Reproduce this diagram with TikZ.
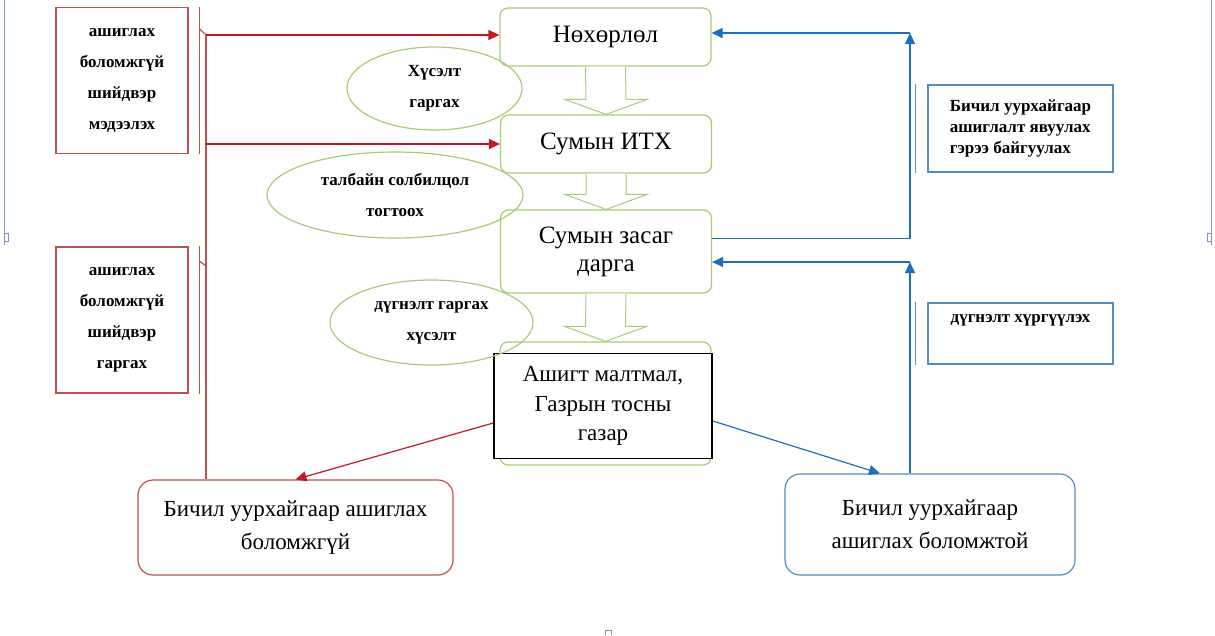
\documentclass[tikz,border=0pt]{standalone}
\usepackage{fontspec}
\setmainfont{Liberation Serif}
\usetikzlibrary{shapes.geometric,arrows.meta,calc}
\definecolor{redl}{RGB}{192,80,77}
\definecolor{redd}{RGB}{196,24,36}
\definecolor{greenl}{RGB}{168,204,118}
\definecolor{bluel}{RGB}{84,140,196}
\definecolor{blued}{RGB}{30,110,185}
\definecolor{framec}{RGB}{120,150,185}

\begin{document}
\begin{tikzpicture}[
        x=1pt,
        y=-1pt,
        line width=1.2pt
    ]
    \tikzset{
        stagebox/.style = {rectangle, rounded corners=8pt, draw=greenl, align=center, minimum width=211pt, font=\fontsize{25}{28}\selectfont},
        ovalnode/.style = {ellipse, draw=greenl, align=center, inner sep=0pt, font=\fontsize{17}{31}\selectfont\bfseries},
        redbox/.style = {rectangle, draw=redl, align=center, minimum width=132pt, minimum height=146pt, font=\fontsize{17}{31}\selectfont\bfseries},
        lblbox/.style = {rectangle, draw=bluel, align=left, minimum width=185pt, font=\fontsize{17}{21}\selectfont\bfseries},
        endbox/.style = {rectangle, rounded corners=15pt, align=center, font=\fontsize{23}{33}\selectfont},
        stepg/.style = {draw=greenl, fill=white, line width=1pt},
        edger/.style = {redd, -{Triangle[length=11pt,width=10pt]}},
        edgerl/.style = {redl},
        edgeb/.style = {blued, -{Triangle[length=11pt,width=10pt]}},
        edgebl/.style = {bluel, line width=1pt},
        framel/.style = {framec, line width=0.8pt},
    }
    \useasboundingbox (0,0) rectangle (1215,635);
    \draw[framel] (4,0) -- (4,245);
    \draw[framel] (4,233) rectangle (8,241);
    \draw[framel] (1211,0) -- (1211,245);
    \draw[framel] (1207,233) rectangle (1211,241);
    \draw[framel] (605,635) -- (605,630) -- (611,630) -- (611,635);
    %
    \node[stagebox, minimum height=58pt] at (605.5,37) (nokh) {Нөхөрлөл};
    \node[stagebox, minimum height=58pt] at (606,144) (itkh) {Сумын ИТХ};
    \node[stagebox, minimum height=83pt] at (606,251.5) (darga) {Сумын засаг\\дарга};
    \node[stagebox, minimum height=123pt] at (605.5,403.5) (field) {};
    \foreach \a/\b in {nokh/itkh, itkh/darga, darga/field} {
        \draw[stepg] ($(\a.south)+(-20,0)$) -- ($(\b.north)+(-20,-15)$) -- ($(\b.north)+(-41,-15)$) -- (\b.north)
            -- ($(\b.north)+(41,-15)$) -- ($(\b.north)+(20,-15)$) -- ($(\a.south)+(20,0)$);
    }
    \node[rectangle, draw=black, fill=white, line width=1.6pt, minimum width=218pt, minimum height=105pt, align=center,
        font=\fontsize{23}{29.5}\selectfont] at (603,406) (mineral) {Ашигт малтмал,\\Газрын тосны\\газар};
    %
    \node[ovalnode, minimum width=175pt, minimum height=83pt] at (434.5,88.5) (req) {Хүсэлт\\гаргах};
    \node[ovalnode, minimum width=256pt, minimum height=86pt] at (395,195) (coord) {талбайн солбилцол\\тогтоох};
    \node[ovalnode, minimum width=203pt, minimum height=85pt] at (431.5,322.5) (concl) {дүгнэлт гаргах\\хүсэлт};
    %
    \node[redbox] at (122,80.5) (refuse) {ашиглах\\боломжгүй\\шийдвэр\\мэдээлэх};
    \node[redbox] at (122,320) (decide) {ашиглах\\боломжгүй\\шийдвэр\\гаргах};
    \node[endbox, draw=redl, minimum width=315pt, minimum height=95pt] at (295.5,527.5) (nobox) {Бичил уурхайгаар ашиглах\\боломжгүй};
    \node[endbox, draw=bluel, minimum width=290pt, minimum height=101pt] at (930,524.5) (okbox) {Бичил уурхайгаар\\ашиглах боломжтой};
    %
    \node[lblbox, minimum height=87pt] at (1020.5,128.5) (contract) {Бичил уурхайгаар\\ашиглалт явуулах\\гэрээ байгуулах};
    \node[lblbox, minimum height=61pt, label={[font=\fontsize{17}{21}\selectfont\bfseries, anchor=north, yshift=-8pt]north:дүгнэлт хүргүүлэх}] at (1020.5,333.5) (send) {};
    \draw[edgebl] ($(contract.north west)+(-12,0)$) -- ($(contract.south west)+(-12,0)$);
    \draw[edgebl] ($(send.north west)+(-12,0)$) -- ($(send.south west)+(-12,0)$);
    %
    \coordinate (trunk) at (206,35);
    \draw[edgerl] ($(refuse.north east)+(11,0)$) -- ($(refuse.south east)+(11,0)$);
    \draw[edgerl] ($(refuse.north east)+(11,22)$) -- (trunk);
    \draw[edgerl] ($(decide.north east)+(11,0)$) -- ($(decide.south east)+(11,0)$);
    \draw[edgerl] ($(decide.north east)+(11,15)$) -- ($(decide.north east)+(18,20)$);
    \draw[edgerl] (trunk) -- (trunk |- nobox.north);
    \draw[edger] (trunk) -- (trunk -| nokh.west);
    \draw[edger] (trunk |- itkh.west) -- (itkh.west);
    \draw[edger] ($(mineral.west)+(0,17)$) -- (nobox.north);
    %
    \coordinate (ru) at (910,33);
    \coordinate (rl) at (910,262);
    \draw[edgeb] ($(darga.east)+(0,-13)$) -| (ru);
    \draw[edgeb] (ru) -- (ru -| nokh.east);
    \draw[edgeb] (rl |- okbox.north) -- (rl);
    \draw[edgeb] (rl) -- (rl -| darga.east);
    \draw[edgeb] ($(mineral.east)+(0,15)$) -- ($(okbox.north)+(-50,0)$);
\end{tikzpicture}
\end{document}
